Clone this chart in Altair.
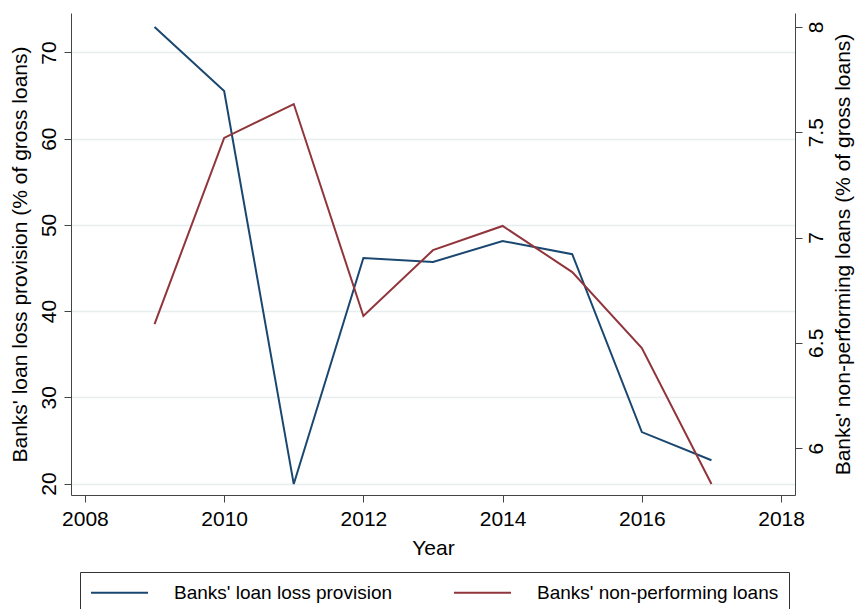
import altair as alt
import pandas as pd

years = [2009, 2010, 2011, 2012, 2013, 2014, 2015, 2016, 2017]
loan_loss_provision = [72.96, 65.53, 19.94, 46.16, 45.7, 48.13, 46.6, 25.97, 22.7]
npl = [6.589, 7.473, 7.634, 6.627, 6.94, 7.055, 6.836, 6.475, 5.829]

s1 = "Banks' loan loss provision"
s2 = "Banks' non-performing loans"
x_ticks = [2008, 2010, 2012, 2014, 2016, 2018]
left_ticks = [20, 30, 40, 50, 60, 70]
right_ticks = [6, 6.5, 7, 7.5, 8]

df1 = pd.DataFrame({"Year": years, "value": loan_loss_provision, "series": s1})
df2 = pd.DataFrame({"Year": years, "value": npl, "series": s2})

FONT = "Liberation Sans"
color = alt.Color(
    "series:N",
    scale=alt.Scale(domain=[s1, s2], range=["#1a476f", "#90353b"]),
    legend=alt.Legend(
        title=None, orient="none", legendX=9, legendY=559, direction="horizontal",
        columns=2, symbolType="M-1,0H5", symbolSize=361, symbolStrokeWidth=2,
        labelFontSize=19, labelFont=FONT, labelColor="#000", labelOffset=63,
        columnPadding=57, padding=10, strokeColor="#333", fillColor="white",
        labelLimit=400, offset=0,
    ),
)

x = alt.X("Year:Q", scale=alt.Scale(domain=[2007.8, 2018.2], nice=False, zero=False),
          axis=alt.Axis(values=x_ticks, format="d", title="Year", grid=False,
                        labelFontSize=21, titleFontSize=21, labelFont=FONT, titleFont=FONT,
                        tickSize=7, labelPadding=6, titlePadding=8, domainColor="#444",
                        tickColor="#444", labelColor="#000", titleColor="#000",
                        titleFontWeight="normal", labelFlush=False))

left = alt.Chart(df1).mark_line(strokeWidth=2).encode(
    x=x,
    y=alt.Y("value:Q", scale=alt.Scale(domain=[18.67, 74.58], nice=False, zero=False),
            axis=alt.Axis(values=left_ticks, title="Banks' loan loss provision (% of gross loans)",
                          orient="left", grid=True, gridColor="#e6eef0", gridWidth=1.5,
                          labelAngle=270, labelAlign="center", labelBaseline="bottom",
                          labelFontSize=21, titleFontSize=21, labelFont=FONT, titleFont=FONT,
                          tickSize=7, labelPadding=5, titlePadding=8, domainColor="#444",
                          tickColor="#444", labelColor="#000", titleColor="#000",
                          titleFontWeight="normal", labelFlush=False)),
    color=color,
)

right = alt.Chart(df2).mark_line(strokeWidth=2).encode(
    x=x,
    y=alt.Y("value:Q", scale=alt.Scale(domain=[5.777, 8.0665], nice=False, zero=False),
            axis=alt.Axis(values=right_ticks, format="~g",
                          title="Banks' non-performing loans (% of gross loans)",
                          orient="right", grid=False, titleAngle=270, titleBaseline="top",
                          labelAngle=270, labelAlign="center", labelBaseline="top",
                          labelFontSize=21, titleFontSize=21, labelFont=FONT, titleFont=FONT,
                          tickSize=7, labelPadding=3, titlePadding=6, domainColor="#444",
                          tickColor="#444", labelColor="#000", titleColor="#000",
                          titleFontWeight="normal", labelFlush=False)),
    color=color,
)

chart = alt.layer(left, right).resolve_scale(y="independent").properties(
    width=724, height=482,
    autosize=alt.AutoSizeParams(type="none"),
    padding={"left": 71, "top": 13, "right": 63, "bottom": 114},
    background="white",
).configure_view(strokeWidth=0)

chart.save("out.html", embed_options={"renderer": "svg", "actions": False})
